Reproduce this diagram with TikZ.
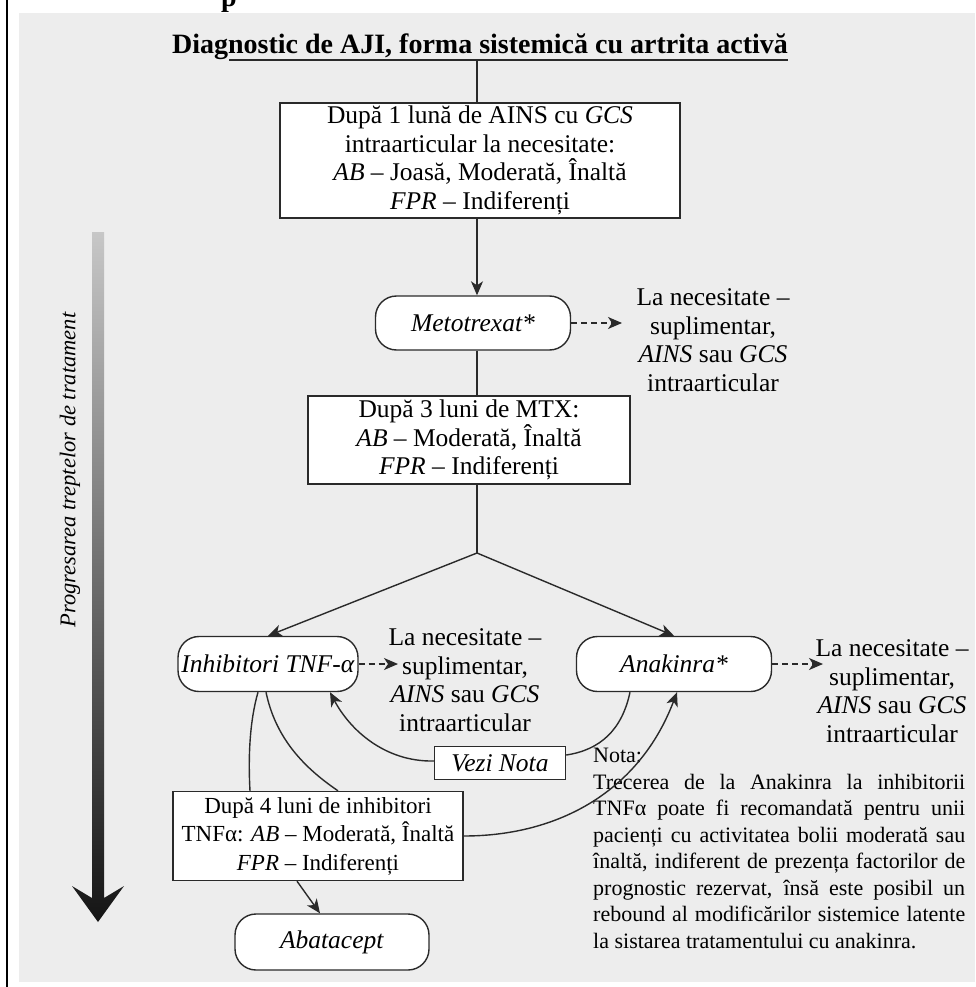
\documentclass[tikz,border=0pt]{standalone}
\usepackage{fontspec}
\setmainfont{Liberation Serif}
\usetikzlibrary{arrows.meta}
\definecolor{panel}{HTML}{EDEDED}
\definecolor{lc}{HTML}{2A2A2A}
\newcommand\mainfs{\fontsize{25.5}{28.5}\selectfont}
\newcommand\boxthreefs{\fontsize{23}{28.5}\selectfont}
\newcommand\notafs{\fontsize{22}{26.5}\selectfont}
\newcommand\titlefs{\fontsize{28}{30}\selectfont}
\begin{document}
\begin{tikzpicture}[x=1pt,y=-1pt,
 sqbox/.style={draw=lc, fill=white, line width=1.4pt, align=center, inner sep=2pt, font=\mainfs},
 pill/.style={sqbox, rounded corners=21pt},
 txt/.style={align=center, inner sep=0pt, font=\mainfs},
 conn/.style={draw=lc, line width=1.4pt},
 arr/.style={conn, -{Stealth[length=14pt,width=12pt,inset=4pt]}},
 dasharr/.style={arr, dash pattern=on 6pt off 4pt}]
\useasboundingbox (0,0) rectangle (975,987);
% background
\fill[white] (0,0) rectangle (975,987);
\fill[panel] (19,13) rectangle (975,982);
\draw[line width=2.5pt] (7,0) -- (7,987);
\node[font=\bfseries\fontsize{28}{28}\selectfont, anchor=base, inner sep=0pt] (frag) at (229,7) {p};
% title
\node[font=\titlefs\bfseries, anchor=base, inner sep=0pt] (title) at (480,54) {Diagnostic de AJI, forma sistemică cu artrita activă};
\coordinate (ul1) at ([xshift=57pt,yshift=-6pt]title.base west);
\coordinate (ul2) at ([yshift=-6pt]title.base east);
\draw[line width=1.5pt, lc] (ul1) -- (ul2);
\coordinate (tl) at (477,60);
% gradient arrow
\shade[top color=black!22, bottom color=black!92]
  (92,232) -- (104,232) -- (104,898) -- (124,886) -- (98,922) -- (72,886) -- (92,898) -- cycle;
\node[rotate=90, font=\itshape\fontsize{22.5}{24}\selectfont, inner sep=0pt] (prog) at (70,470) {Progresarea treptelor de tratament};
% nodes
\node[sqbox, minimum width=400pt, minimum height=115pt] (b1) at (480,160.5)
 {După 1 lună de AINS cu \textit{GCS}\\intraarticular la necesitate:\\\textit{AB} – Joasă, Moderată, Înaltă\\\textit{FPR} – Indiferenți};
\node[pill, minimum width=195pt, minimum height=54pt] (mtx) at (473,323) {\textit{Metotrexat*}};
\node[txt] (t1) at (713,340) {La necesitate –\\suplimentar,\\\textit{AINS} sau \textit{GCS}\\intraarticular};
\node[sqbox, minimum width=322pt, minimum height=88pt] (b2) at (469,440)
 {După 3 luni de MTX:\\\textit{AB} – Moderată, Înaltă\\\textit{FPR} – Indiferenți};
\coordinate (j) at (477,553);
\node[pill, minimum width=180pt, minimum height=55pt] (inh) at (268,664) {\textit{Inhibitori TNF-α}};
\node[txt] (t2) at (465,680) {La necesitate –\\suplimentar,\\\textit{AINS} sau \textit{GCS}\\intraarticular};
\node[pill, minimum width=195pt, minimum height=55pt] (ana) at (674,664) {\textit{Anakinra*}};
\node[txt] (t3) at (892,691) {La necesitate –\\suplimentar,\\\textit{AINS} sau \textit{GCS}\\intraarticular};
\node[sqbox, minimum width=131pt, minimum height=33pt, inner sep=0pt] (vn) at (500,763) {\textit{Vezi Nota}};
\node[sqbox, font=\boxthreefs, minimum width=290pt, minimum height=89pt] (b3) at (318,836)
 {După 4 luni de inhibitori\\TNFα: \textit{AB} – Moderată, Înaltă\\\textit{FPR} – Indiferenți};
\node[pill, minimum width=194pt, minimum height=56pt] (aba) at (332,942) {\textit{Abatacept}};
\node[anchor=north west, inner sep=0pt] (nota) at (593,748) {\parbox{372pt}{\notafs\hyphenpenalty=10000
 Nota:\\Trecerea de la Anakinra la inhibitorii\linebreak
 TNFα poate fi recomandată pentru unii\linebreak
 pacienți cu activitatea bolii moderată sau\linebreak
 înaltă, indiferent de prezența factorilor de\linebreak
 prognostic rezervat, însă este posibil un\linebreak
 rebound al modificărilor sistemice latente\linebreak
 la sistarea tratamentului cu anakinra.}};
% dashed ends
\coordinate (d1) at (622,323);
\coordinate (d2) at (398,664);
\coordinate (d3) at (823,664);
% connectors
\draw[conn] (tl) -- (tl |- b1.north);
\draw[arr] (b1.south -| tl) -- (tl |- mtx.north);
\draw[conn] (tl |- mtx.south) -- (tl |- b2.north);
\draw[conn] (tl |- b2.south) -- (j);
\draw[arr] (j) -- (inh.north);
\draw[arr] (j) -- (ana.north);
\draw[dasharr] (mtx.east) -- (d1);
\draw[dasharr] (inh.east) -- (d2);
\draw[dasharr] (ana.east) -- (d3);
\coordinate (ia) at ([xshift=-10pt]inh.south);
\coordinate (ib) at ([xshift=-2pt]inh.south);
\coordinate (ic) at ([xshift=62pt]inh.south);
\draw[conn] (ia) .. controls (250,720) and (248,755) .. (b3.north -| 250,0);
\draw[conn] (ib) .. controls (275,735) and (300,765) .. (b3.north -| 338,0);
\draw[arr] ([yshift=2pt]vn.west) .. controls (385,762) and (350,730) .. (ic);
\coordinate (aa) at ([xshift=-44pt]ana.south);
\coordinate (ab) at ([xshift=3pt]ana.south);
\draw[conn] (aa) .. controls (622,730) and (600,750) .. ([yshift=8pt]vn.east);
\draw[arr] (b3.east) .. controls (560,836) and (640,790) .. (ab);
\draw[arr] ([xshift=-21pt]b3.south) -- ([xshift=-12pt]aba.north);
\end{tikzpicture}
\end{document}
